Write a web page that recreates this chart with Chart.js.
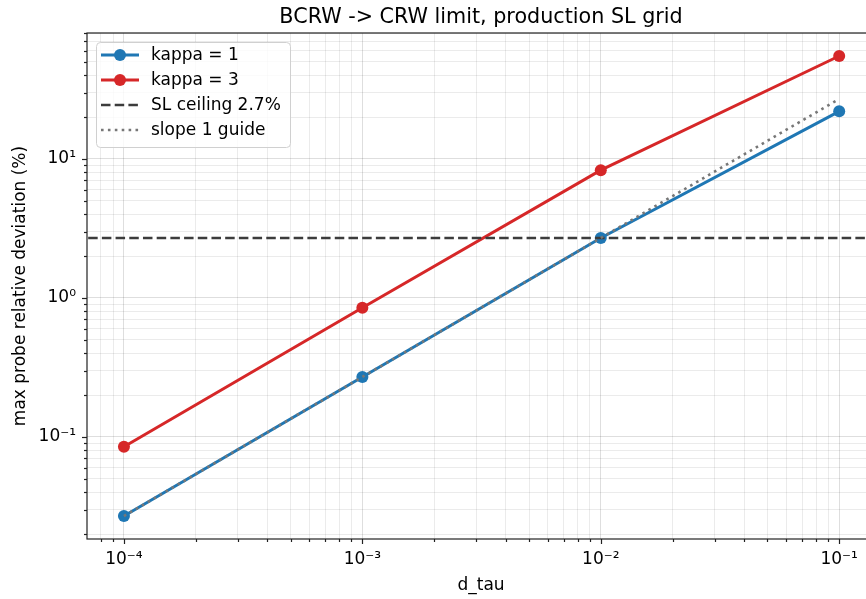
<!DOCTYPE html>
<html>
<head>
<meta charset="utf-8">
<script src="https://cdn.jsdelivr.net/npm/chart.js@4.4.1/dist/chart.umd.min.js"></script>
<style>
  html, body { margin: 0; padding: 0; background: #fff; overflow: hidden; }
  #wrap { width: 866px; height: 599px; overflow: hidden; }
</style>
</head>
<body>
<div id="wrap"><canvas id="chart" width="881" height="599"></canvas></div>
<script>
// data
const D_TAU = [1e-4, 1e-3, 1e-2, 1e-1];
const KAPPA1 = [0.027, 0.27, 2.7, 22];
const KAPPA3 = [0.085, 0.85, 8.3, 55];
const SL_CEILING = 2.7;
const GUIDE_X = [1e-4, 1e-1];
const GUIDE_Y = [0.027, 27];

// axis limits (matplotlib 5% margins on log scale)
const X_MIN = 7.08e-5, X_MAX = 0.1413;
const Y_MIN = 0.01845, Y_MAX = 80.5;

const X_MAJOR = [1e-4, 1e-3, 1e-2, 1e-1];
const X_LABELS = ["10⁻⁴", "10⁻³", "10⁻²", "10⁻¹"];
const Y_MAJOR = [0.1, 1, 10];
const Y_LABELS = ["10⁻¹", "10⁰", "10¹"];

const TITLE = "BCRW -> CRW limit, production SL grid";
const FONT = "'DejaVu Sans', sans-serif";
const BLUE = "#1f77b4";
const RED = "#d62728";

function isMajor(v) {
  const l = Math.log10(v);
  return Math.abs(l - Math.round(l)) < 1e-6;
}

// 1..9 x 10^n inside the range
function logTicks(min, max) {
  const out = [];
  for (let e = Math.floor(Math.log10(min)); e <= Math.ceil(Math.log10(max)); e++) {
    for (let m = 1; m < 10; m++) {
      const v = +(m * Math.pow(10, e)).toPrecision(6);
      if (v >= min && v <= max) out.push(v);
    }
  }
  return out;
}

function labelFor(majors, labels) {
  return (value) => {
    const i = majors.findIndex((m) => Math.abs(m - value) / m < 1e-6);
    return i >= 0 ? labels[i] : "";
  };
}

const pts = (xs, ys) => xs.map((x, i) => ({ x, y: ys[i] }));

const gridColor = (c) =>
  c.tick && isMajor(c.tick.value) ? "rgba(0,0,0,0.13)" : "rgba(0,0,0,0.08)";

// spines, tick marks and a title centred over the axes like matplotlib
const frame = {
  id: "frame",
  afterDraw(chart) {
    const { ctx, chartArea: a } = chart;
    const x = chart.scales.x, y = chart.scales.y;
    ctx.save();
    ctx.strokeStyle = "#222";
    ctx.lineWidth = 1.2;
    x.ticks.forEach((t) => {
      const px = Math.round(x.getPixelForValue(t.value)) + 0.5;
      const len = isMajor(t.value) ? 5 : 3;
      ctx.beginPath();
      ctx.moveTo(px, a.bottom);
      ctx.lineTo(px, a.bottom + len);
      ctx.stroke();
    });
    y.ticks.forEach((t) => {
      const py = Math.round(y.getPixelForValue(t.value)) + 0.5;
      const len = isMajor(t.value) ? 5 : 3;
      ctx.beginPath();
      ctx.moveTo(a.left, py);
      ctx.lineTo(a.left - len, py);
      ctx.stroke();
    });
    ctx.strokeRect(a.left, a.top, a.right - a.left, a.bottom - a.top);

    ctx.fillStyle = "#000";
    ctx.font = "20.7px " + FONT;
    ctx.textAlign = "center";
    ctx.textBaseline = "alphabetic";
    ctx.fillText(TITLE, (a.left + a.right) / 2, 23);
    ctx.restore();
  },
};

const boxLegend = {
  id: "boxLegend",
  afterDatasetsDraw(chart) {
    const { ctx, chartArea: a } = chart;
    const bx = a.left + 9, by = a.top + 9, bw = 194, bh = 105;
    ctx.save();
    ctx.fillStyle = "rgba(255,255,255,0.8)";
    ctx.strokeStyle = "#d0d0d0";
    ctx.lineWidth = 1;
    ctx.beginPath();
    ctx.roundRect(bx + 0.5, by + 0.5, bw, bh, 4);
    ctx.fill();
    ctx.stroke();
    chart.data.datasets.forEach((ds, i) => {
      const cy = by + 13 + i * 25;
      ctx.strokeStyle = ds.borderColor;
      ctx.lineWidth = ds.borderWidth;
      ctx.lineCap = "butt";
      ctx.setLineDash(ds.borderDash || []);
      ctx.beginPath();
      ctx.moveTo(bx + 5, cy);
      ctx.lineTo(bx + 43, cy);
      ctx.stroke();
      ctx.setLineDash([]);
      if (ds.pointRadius > 0) {
        ctx.fillStyle = ds.borderColor;
        ctx.beginPath();
        ctx.arc(bx + 24, cy, ds.pointRadius, 0, Math.PI * 2);
        ctx.fill();
      }
      ctx.fillStyle = "#000";
      ctx.font = "17px " + FONT;
      ctx.textBaseline = "middle";
      ctx.fillText(ds.label, bx + 55, cy + 1);
    });
    ctx.restore();
  },
};

Chart.defaults.color = "#000";
Chart.defaults.font.family = FONT;

new Chart(document.getElementById("chart"), {
  type: "scatter",
  data: {
    datasets: [
      {
        label: "kappa = 1",
        data: pts(D_TAU, KAPPA1),
        showLine: true,
        borderColor: BLUE,
        backgroundColor: BLUE,
        borderWidth: 3,
        pointRadius: 6,
        pointBorderWidth: 0,
        order: 4,
      },
      {
        label: "kappa = 3",
        data: pts(D_TAU, KAPPA3),
        showLine: true,
        borderColor: RED,
        backgroundColor: RED,
        borderWidth: 3,
        pointRadius: 6,
        pointBorderWidth: 0,
        order: 3,
      },
      {
        label: "SL ceiling 2.7%",
        data: pts([X_MIN, X_MAX], [SL_CEILING, SL_CEILING]),
        showLine: true,
        borderColor: "#3c3c3c",
        borderWidth: 2.6,
        borderDash: [9.5, 4.2],
        pointRadius: 0,
        order: 2,
      },
      {
        label: "slope 1 guide",
        data: pts(GUIDE_X, GUIDE_Y),
        showLine: true,
        borderColor: "#777777",
        borderWidth: 2.6,
        borderDash: [2.6, 4.3],
        pointRadius: 0,
        order: 1,
      },
    ],
  },
  options: {
    responsive: false,
    animation: false,
    layout: { padding: { top: 33, left: 0, right: 0, bottom: 0 } },
    plugins: {
      legend: { display: false },
      tooltip: { enabled: false },
      title: { display: false },
    },
    scales: {
      x: {
        type: "logarithmic",
        min: X_MIN,
        max: X_MAX,
        afterBuildTicks: (s) => {
          s.ticks = logTicks(X_MIN, X_MAX).map((v) => ({ value: v }));
        },
        afterFit: (s) => { s.height = 60; },
        grid: { color: gridColor, lineWidth: 1, drawTicks: false },
        border: { display: false },
        ticks: {
          autoSkip: false,
          maxRotation: 0,
          padding: 10,
          font: { size: 17 },
          callback: labelFor(X_MAJOR, X_LABELS),
        },
        title: {
          display: true,
          text: "d_tau",
          font: { size: 17 },
          padding: { top: 0, bottom: 3 },
        },
      },
      y: {
        type: "logarithmic",
        min: Y_MIN,
        max: Y_MAX,
        afterBuildTicks: (s) => {
          s.ticks = logTicks(Y_MIN, Y_MAX).map((v) => ({ value: v }));
        },
        afterFit: (s) => { s.width = 87; },
        grid: { color: gridColor, lineWidth: 1, drawTicks: false },
        border: { display: false },
        ticks: {
          autoSkip: false,
          padding: 11,
          font: { size: 17 },
          callback: labelFor(Y_MAJOR, Y_LABELS),
        },
        title: {
          display: true,
          text: "max probe relative deviation (%)",
          font: { size: 17 },
          padding: { top: 10, bottom: 10 },
        },
      },
    },
  },
  plugins: [boxLegend, frame],
});
</script>
</body>
</html>
